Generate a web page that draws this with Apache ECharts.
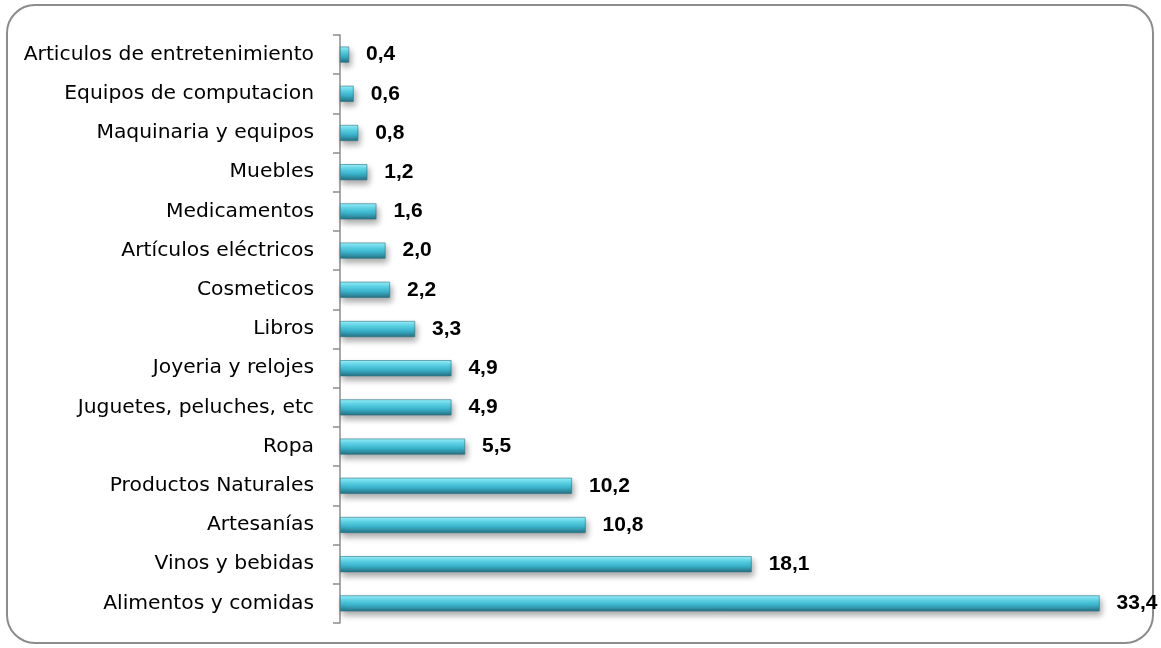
<!DOCTYPE html>
<html>
<head>
<meta charset="utf-8">
<script src="https://cdn.jsdelivr.net/npm/echarts@6/dist/echarts.min.js"></script>
<style>
  html, body { margin: 0; padding: 0; background: #ffffff; }
  #chart { width: 1161px; height: 648px; }
</style>
</head>
<body>
<div id="chart"></div>
<script>
// Product categories, listed top to bottom
const categories = [
  'Articulos de entretenimiento',
  'Equipos de computacion',
  'Maquinaria y equipos',
  'Muebles',
  'Medicamentos',
  'Artículos eléctricos',
  'Cosmeticos',
  'Libros',
  'Joyeria y relojes',
  'Juguetes, peluches, etc',
  'Ropa',
  'Productos Naturales',
  'Artesanías',
  'Vinos y bebidas',
  'Alimentos y comidas'
];

// Share of each category (%)
const values = [0.4, 0.6, 0.8, 1.2, 1.6, 2.0, 2.2, 3.3, 4.9, 4.9, 5.5, 10.2, 10.8, 18.1, 33.4];

const chart = echarts.init(document.getElementById('chart'));

const barFill = new echarts.graphic.LinearGradient(0, 0, 0, 1, [
  { offset: 0, color: '#9af3fc' },
  { offset: 0.3, color: '#5fd6ea' },
  { offset: 0.6, color: '#3bb5cd' },
  { offset: 1, color: '#276f80' }
]);

chart.setOption({
  animation: false,
  graphic: [{
    type: 'rect',
    shape: { x: 7, y: 5, width: 1146, height: 638, r: 28 },
    style: { fill: 'none', stroke: '#8c8c8c', lineWidth: 2 },
    z: 0
  }],
  grid: { left: 340, top: 35, height: 588, width: 796 },
  xAxis: {
    type: 'value',
    min: 0,
    max: 35,
    show: false
  },
  yAxis: {
    type: 'category',
    data: categories,
    inverse: true,
    axisLine: { show: true, lineStyle: { color: '#8c8c8c', width: 1.5 } },
    axisTick: { show: true, inside: false, length: 7, lineStyle: { color: '#8c8c8c', width: 1.5 } },
    axisLabel: {
      color: '#000000',
      fontFamily: 'DejaVu Sans',
      fontSize: 20.3,
      margin: 26
    },
    splitLine: { show: false }
  },
  series: [{
    type: 'bar',
    data: values,
    barWidth: 16,
    itemStyle: {
      color: barFill,
      borderColor: '#2a7283',
      borderWidth: 0.6,
      shadowColor: 'rgba(0,0,0,0.35)',
      shadowBlur: 6,
      shadowOffsetY: 4,
      shadowOffsetX: 2
    },
    label: {
      show: true,
      position: 'right',
      distance: 17,
      color: '#000000',
      fontFamily: 'Liberation Sans',
      fontWeight: 'bold',
      fontSize: 21,
      formatter: p => p.value.toFixed(1).replace('.', ',')
    }
  }]
});
</script>
</body>
</html>
